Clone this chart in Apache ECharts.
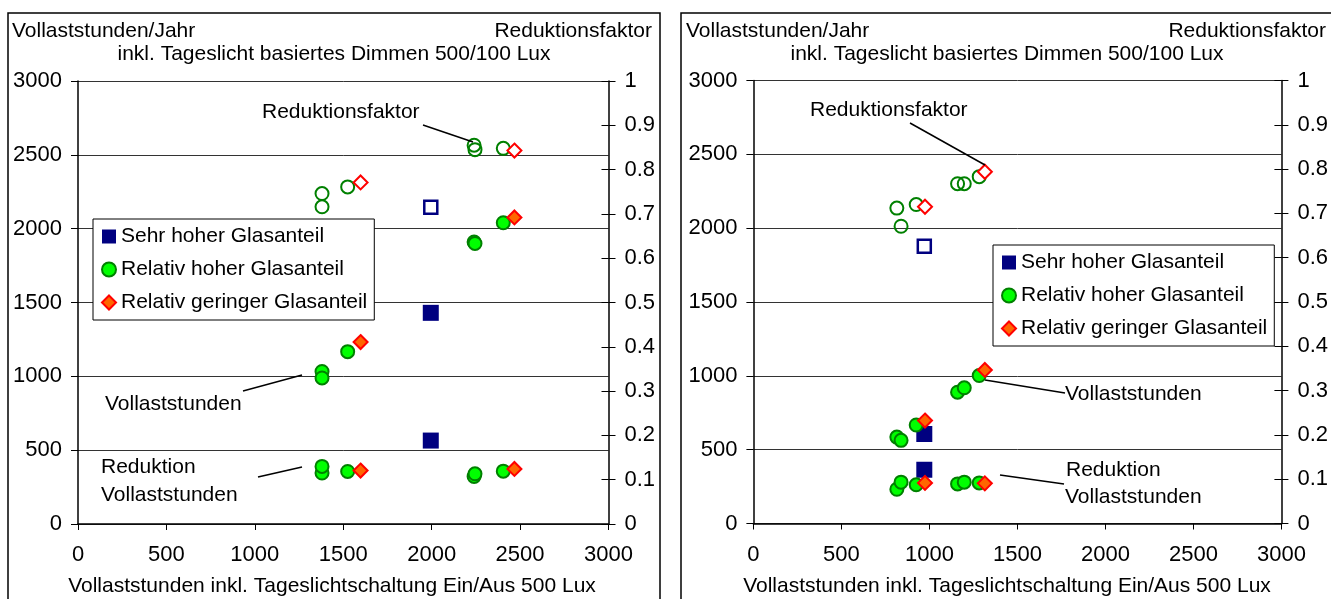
<!DOCTYPE html>
<html><head><meta charset="utf-8">
<script src="https://cdn.jsdelivr.net/npm/echarts@6/dist/echarts.min.js"></script>
<style>html,body{margin:0;padding:0;background:#fff}#c{width:1331px;height:599px}</style>
</head><body><div id="c"></div>
<script>
// ---- tick settings ----
const xMax = 3000, xStep = 500;
const yMax = 3000, yStep = 500;
const rMax = 1, rStep = 0.1;

// ---- series names ----
const names = ['Sehr hoher Glasanteil', 'Relativ hoher Glasanteil', 'Relativ geringer Glasanteil'];

// ---- LEFT chart data ----
const L_sehr_x    = [1995];
const L_sehr_voll = [1430];
const L_sehr_red  = [565];
const L_sehr_fak  = [0.715];

const L_hoch_x    = [1380, 1380, 1525, 2240, 2245, 2405];
const L_hoch_voll = [1033, 989, 1167, 1910, 1900, 2040];
const L_hoch_red  = [345, 390, 356, 322, 340, 358];
const L_hoch_fak  = [0.746, 0.716, 0.761, 0.855, 0.845, 0.848];

const L_ger_x     = [1598, 2468];
const L_ger_voll  = [1232, 2076];
const L_ger_red   = [362, 373];
const L_ger_fak   = [0.771, 0.843];

// ---- RIGHT chart data ----
const R_sehr_x    = [971];
const R_sehr_voll = [606];
const R_sehr_red  = [364];
const R_sehr_fak  = [0.626];

const R_hoch_x    = [815, 839, 925, 1160, 1198, 1283];
const R_hoch_voll = [585, 563, 667, 889, 919, 1002];
const R_hoch_red  = [232, 280, 262, 268, 280, 275];
const R_hoch_fak  = [0.712, 0.671, 0.72, 0.767, 0.767, 0.783];

const R_ger_x     = [975, 1315];
const R_ger_voll  = [697, 1040];
const R_ger_red   = [275, 272];
const R_ger_fak   = [0.715, 0.794];

const FONT = "'Liberation Sans', Arial, sans-serif";

const styles = [
  { filled: { symbol: 'rect', size: 16, item: { color: '#000080', borderWidth: 0, opacity: 1 } },
    hollow: { symbol: 'rect', size: 13, item: { color: '#ffffff', borderColor: '#000080', borderWidth: 2.5, opacity: 1 } } },
  { filled: { symbol: 'circle', size: 13, item: { color: '#00ff00', borderColor: '#008000', borderWidth: 2, opacity: 1 } },
    hollow: { symbol: 'circle', size: 13, item: { color: 'rgba(255,255,255,0)', borderColor: '#008000', borderWidth: 2, opacity: 1 } } },
  { filled: { symbol: 'diamond', size: 14, item: { color: '#ff6600', borderColor: '#ff0000', borderWidth: 2, opacity: 1 } },
    hollow: { symbol: 'diamond', size: 14, item: { color: '#ffffff', borderColor: '#ff0000', borderWidth: 2, opacity: 1 } } }
];

const chartsData = [
  [ [L_sehr_x, L_sehr_voll, L_sehr_red, L_sehr_fak],
    [L_hoch_x, L_hoch_voll, L_hoch_red, L_hoch_fak],
    [L_ger_x, L_ger_voll, L_ger_red, L_ger_fak] ],
  [ [R_sehr_x, R_sehr_voll, R_sehr_red, R_sehr_fak],
    [R_hoch_x, R_hoch_voll, R_hoch_red, R_hoch_fak],
    [R_ger_x, R_ger_voll, R_ger_red, R_ger_fak] ]
];

const grids = [
  { left: 78, top: 81, width: 530.5, height: 443 },
  { left: 753.4, top: 80.5, width: 530, height: 443 }
];

const plain = v => String(Math.round(v * 10) / 10);

const xAxes = [], yAxes = [], series = [];
grids.forEach((g, gi) => {
  xAxes.push({
    type: 'value', gridIndex: gi, min: 0, max: xMax, interval: xStep,
    axisLine: { show: true, lineStyle: { color: '#000', width: 1.5 } },
    axisTick: { show: true, inside: false, length: 6, lineStyle: { color: '#000', width: 1 } },
    axisLabel: { fontSize: 22, fontFamily: FONT, color: '#000', margin: 20, formatter: plain },
    splitLine: { show: false }
  });
  yAxes.push({
    type: 'value', gridIndex: gi, position: 'left', min: 0, max: yMax, interval: yStep,
    axisLine: { show: true, lineStyle: { color: '#000', width: 1.5 } },
    axisTick: { show: true, inside: false, length: 7, lineStyle: { color: '#000', width: 1 } },
    axisLabel: { fontSize: 22, fontFamily: FONT, color: '#000', margin: 16, formatter: plain },
    splitLine: { show: true, lineStyle: { color: '#333', width: 1 } }
  });
  yAxes.push({
    type: 'value', gridIndex: gi, position: 'right', min: 0, max: rMax, interval: rStep,
    axisLine: { show: true, lineStyle: { color: '#000', width: 1.5 } },
    axisTick: { show: true, inside: false, length: 7, lineStyle: { color: '#000', width: 1 } },
    axisLabel: { fontSize: 22, fontFamily: FONT, color: '#000', margin: 16, formatter: plain },
    splitLine: { show: false }
  });
  yAxes.push({
    type: 'value', gridIndex: gi, position: 'right', min: 0, max: rMax, interval: rStep,
    axisLine: { show: false },
    axisTick: { show: true, inside: true, length: 7, lineStyle: { color: '#000', width: 1 } },
    axisLabel: { show: false },
    splitLine: { show: false }
  });

  const cd = chartsData[gi];
  cd.forEach((arr, si) => {
    const [xs, voll, red] = arr;
    const pts = [];
    xs.forEach((x, i) => { pts.push([x, voll[i]]); pts.push([x, red[i]]); });
    const st = styles[si].filled;
    series.push({
      type: 'scatter', name: names[si], xAxisIndex: gi, yAxisIndex: gi * 3,
      symbol: st.symbol, symbolSize: st.size, itemStyle: st.item, data: pts,
      z: 3 + si, silent: true
    });
  });
  cd.forEach((arr, si) => {
    const [xs, , , fak] = arr;
    const st = styles[si].hollow;
    series.push({
      type: 'scatter', name: names[si], xAxisIndex: gi, yAxisIndex: gi * 3 + 1,
      symbol: st.symbol, symbolSize: st.size, itemStyle: st.item,
      data: xs.map((x, i) => [x, fak[i]]), z: 3 + si, silent: true
    });
  });
});

const legendCommon = {
  orient: 'vertical', data: names, itemWidth: 14, itemHeight: 14, itemGap: 12,
  textStyle: { fontSize: 21, fontFamily: FONT, color: '#000', lineHeight: 21 },
  backgroundColor: '#fff', borderColor: '#000', borderWidth: 1,
  padding: [7, 7, 7, 8], selectedMode: false
};

function txt(text, x, y, align) {
  return { type: 'text', silent: true, z: 50,
    style: { text, x, y, fill: '#000', fontSize: 21, fontFamily: FONT,
      textAlign: align || 'left', textVerticalAlign: 'middle', verticalAlign: 'middle' } };
}
function ln(x1, y1, x2, y2) {
  return { type: 'line', silent: true, z: 50,
    shape: { x1, y1, x2, y2 }, style: { stroke: '#000', lineWidth: 1.5 } };
}

const graphic = [
  { type: 'rect', silent: true, z: 0, shape: { x: 8, y: 13, width: 652, height: 600 },
    style: { fill: 'none', stroke: '#000', lineWidth: 1.5 } },
  { type: 'rect', silent: true, z: 0, shape: { x: 681, y: 13, width: 660, height: 600 },
    style: { fill: 'none', stroke: '#000', lineWidth: 1.5 } },
  txt('Vollaststunden/Jahr', 12, 31),
  txt('Reduktionsfaktor', 652, 31, 'right'),
  txt('inkl. Tageslicht basiertes Dimmen 500/100 Lux', 334, 54, 'center'),
  txt('Vollaststunden inkl. Tageslichtschaltung Ein/Aus 500 Lux', 332, 586, 'center'),
  txt('Vollaststunden/Jahr', 686, 31),
  txt('Reduktionsfaktor', 1326, 31, 'right'),
  txt('inkl. Tageslicht basiertes Dimmen 500/100 Lux', 1007, 54, 'center'),
  txt('Vollaststunden inkl. Tageslichtschaltung Ein/Aus 500 Lux', 1007, 586, 'center'),
  txt('Reduktionsfaktor', 262, 112),
  ln(423, 125, 473, 142),
  txt('Vollaststunden', 105, 404),
  ln(243, 391, 302, 375),
  txt('Reduktion', 101, 467),
  txt('Vollaststunden', 101, 495),
  ln(258, 477, 302, 467),
  txt('Reduktionsfaktor', 810, 110),
  ln(910, 123, 985, 165),
  txt('Vollaststunden', 1065, 394),
  ln(985, 380, 1065, 393),
  txt('Reduktion', 1066, 470),
  txt('Vollaststunden', 1065, 497),
  ln(1000, 475, 1064, 484)
];

const chart = echarts.init(document.getElementById('c'), null, { renderer: 'canvas' });
chart.setOption({
  animation: false,
  backgroundColor: '#fff',
  textStyle: { fontFamily: FONT },
  grid: grids.map(g => Object.assign({ containLabel: false }, g)),
  xAxis: xAxes,
  yAxis: yAxes,
  legend: [
    Object.assign({ left: 93, top: 219 }, legendCommon),
    Object.assign({ left: 993, top: 245 }, legendCommon)
  ],
  series,
  graphic
});
</script>
</body></html>
